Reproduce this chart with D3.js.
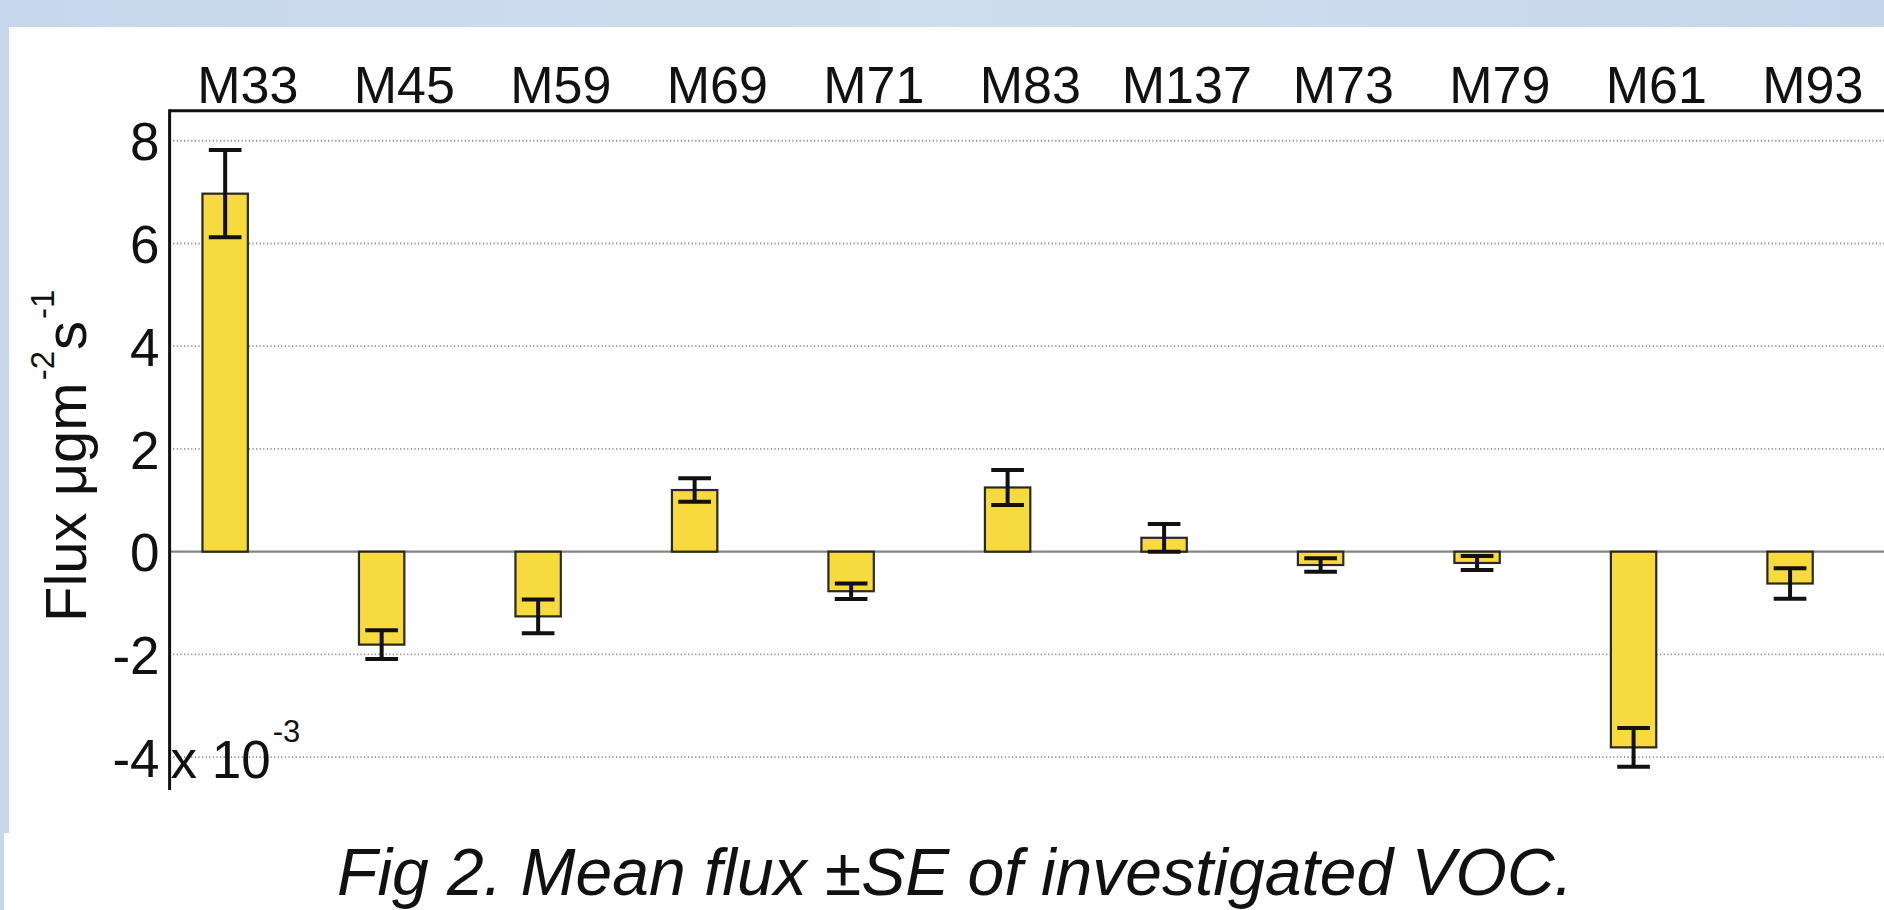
<!DOCTYPE html>
<html>
<head>
<meta charset="utf-8">
<script src="https://cdn.jsdelivr.net/npm/d3@7"></script>
<style>
  html, body { margin: 0; padding: 0; background: #ffffff; overflow: hidden; }
  svg { display: block; }
  text { font-family: "Liberation Sans", Arial, Helvetica, sans-serif; fill: #111; }
</style>
</head>
<body>
<svg id="chart" width="1884" height="910"></svg>
<script>
// ---- data (flux in units of 1e-3 µg m^-2 s^-1) ----
const categories = ["M33", "M45", "M59", "M69", "M71", "M83", "M137", "M73", "M79", "M61", "M93"];
const meanFlux   = [6.97, -1.81, -1.26, 1.20, -0.77, 1.25, 0.27, -0.26, -0.22, -3.81, -0.62];
const stdError   = [0.85, 0.28, 0.33, 0.23, 0.15, 0.34, 0.27, 0.13, 0.135, 0.375, 0.295];
const yTicks     = [-4, -2, 0, 2, 4, 6, 8];
const yLabelMain = "Flux \u03BCgm";
const caption    = "Fig 2. Mean flux \u00B1SE of investigated VOC.";

const svg = d3.select("#chart");
const W = 1884, H = 910;

// background frame (light blue slide border)
const defs = svg.append("defs");
const grad = defs.append("linearGradient").attr("id", "bg").attr("x1", "0").attr("x2", "1");
grad.append("stop").attr("offset", "0").attr("stop-color", "#c7d7eb");
grad.append("stop").attr("offset", "0.5").attr("stop-color", "#cfdeee");
grad.append("stop").attr("offset", "1").attr("stop-color", "#c6d6ea");
svg.append("rect").attr("x", 0).attr("y", 0).attr("width", W).attr("height", H).attr("fill", "url(#bg)");
svg.append("rect").attr("x", 9).attr("y", 27).attr("width", W - 9).attr("height", 806).attr("fill", "#ffffff");
svg.append("rect").attr("x", 4).attr("y", 833).attr("width", W - 4).attr("height", H - 833).attr("fill", "#ffffff");

// plot area
const plot = { left: 169.6, right: 1891, top: 110.7, bottom: 790 };

const x = d3.scaleBand().domain(categories).range([plot.left, plot.right]).padding(0);
const y = d3.scaleLinear().domain([-4.64, 8.585]).range([plot.bottom, plot.top]);
const barW = x.step() * 0.29;
const center = c => x(c) + x.step() / 2;

const g = svg.append("g");

// grid lines
g.selectAll("line.grid").data(yTicks.filter(t => t !== 0)).join("line")
  .attr("class", "grid")
  .attr("x1", plot.left).attr("x2", plot.right)
  .attr("y1", d => y(d)).attr("y2", d => y(d))
  .attr("stroke", "#8f8f8f").attr("stroke-width", 1.8)
  .attr("stroke-dasharray", "1.2,2.4");

// zero baseline
g.append("line")
  .attr("x1", plot.left).attr("x2", plot.right)
  .attr("y1", y(0)).attr("y2", y(0))
  .attr("stroke", "#858585").attr("stroke-width", 2.4);

const data = categories.map((c, i) => ({ c, v: meanFlux[i], se: stdError[i] }));

// bars
g.selectAll("rect.bar").data(data).join("rect")
  .attr("class", "bar")
  .attr("x", d => center(d.c) - barW)
  .attr("width", barW)
  .attr("y", d => y(Math.max(0, d.v)))
  .attr("height", d => Math.abs(y(d.v) - y(0)))
  .attr("fill", "#f6da3e")
  .attr("stroke", "#2a2a1a").attr("stroke-width", 2.2);

// error bars
const capW = barW * 0.72;
const eb = g.selectAll("g.err").data(data).join("g").attr("class", "err")
  .attr("stroke", "#111").attr("stroke-width", 4);
eb.append("line")
  .attr("x1", d => center(d.c) - barW / 2).attr("x2", d => center(d.c) - barW / 2)
  .attr("y1", d => y(d.v + d.se)).attr("y2", d => y(d.v - d.se));
eb.append("line")
  .attr("x1", d => center(d.c) - barW / 2 - capW / 2).attr("x2", d => center(d.c) - barW / 2 + capW / 2)
  .attr("y1", d => y(d.v + d.se)).attr("y2", d => y(d.v + d.se));
eb.append("line")
  .attr("x1", d => center(d.c) - barW / 2 - capW / 2).attr("x2", d => center(d.c) - barW / 2 + capW / 2)
  .attr("y1", d => y(d.v - d.se)).attr("y2", d => y(d.v - d.se));

// axes lines
g.append("line").attr("x1", plot.left).attr("x2", plot.right)
  .attr("y1", plot.top).attr("y2", plot.top)
  .attr("stroke", "#111").attr("stroke-width", 3);
g.append("line").attr("x1", plot.left).attr("x2", plot.left)
  .attr("y1", plot.top - 1.5).attr("y2", plot.bottom)
  .attr("stroke", "#111").attr("stroke-width", 3);

// category labels on top
const xAxis = d3.axisTop(x).tickSize(0).tickPadding(0);
const xa = svg.append("g").attr("transform", `translate(0,${plot.top - 8})`).call(xAxis);
xa.select(".domain").remove();
xa.selectAll("text").attr("font-size", 52).attr("fill", "#111")
  .attr("font-family", "'Liberation Sans', Arial, sans-serif")
  .attr("dy", 0);

// y tick labels
const yAxis = d3.axisLeft(y).tickValues(yTicks).tickSize(0).tickPadding(10).tickFormat(d3.format("d"));
const ya = svg.append("g").attr("transform", `translate(${plot.left},0)`).call(yAxis);
ya.select(".domain").remove();
ya.selectAll("text").attr("font-size", 53).attr("fill", "#111")
  .attr("font-family", "'Liberation Sans', Arial, sans-serif")
  .attr("dy", "0.36em")
  .text(d => d < 0 ? "-" + Math.abs(d) : d);

// exponent multiplier
const ex = svg.append("text").attr("x", plot.left + 1).attr("y", 778).attr("font-size", 53);
ex.append("tspan").text("x 10");
ex.append("tspan").attr("font-size", 31).attr("dy", -36).attr("dx", 2).text("-3");

// y axis title
const yt = svg.append("text")
  .attr("transform", "translate(86,622) rotate(-90)")
  .attr("font-size", 58);
yt.append("tspan").text(yLabelMain);
yt.append("tspan").attr("font-size", 33).attr("dy", -32).attr("dx", 2).text("-2");
yt.append("tspan").attr("dy", 32).attr("dx", 1).text("s");
yt.append("tspan").attr("font-size", 33).attr("dy", -32).attr("dx", 2).text("-1");

// caption
svg.append("text")
  .attr("x", 955).attr("y", 895)
  .attr("text-anchor", "middle")
  .attr("font-size", 66).attr("font-style", "italic")
  .text(caption);
</script>
</body>
</html>
